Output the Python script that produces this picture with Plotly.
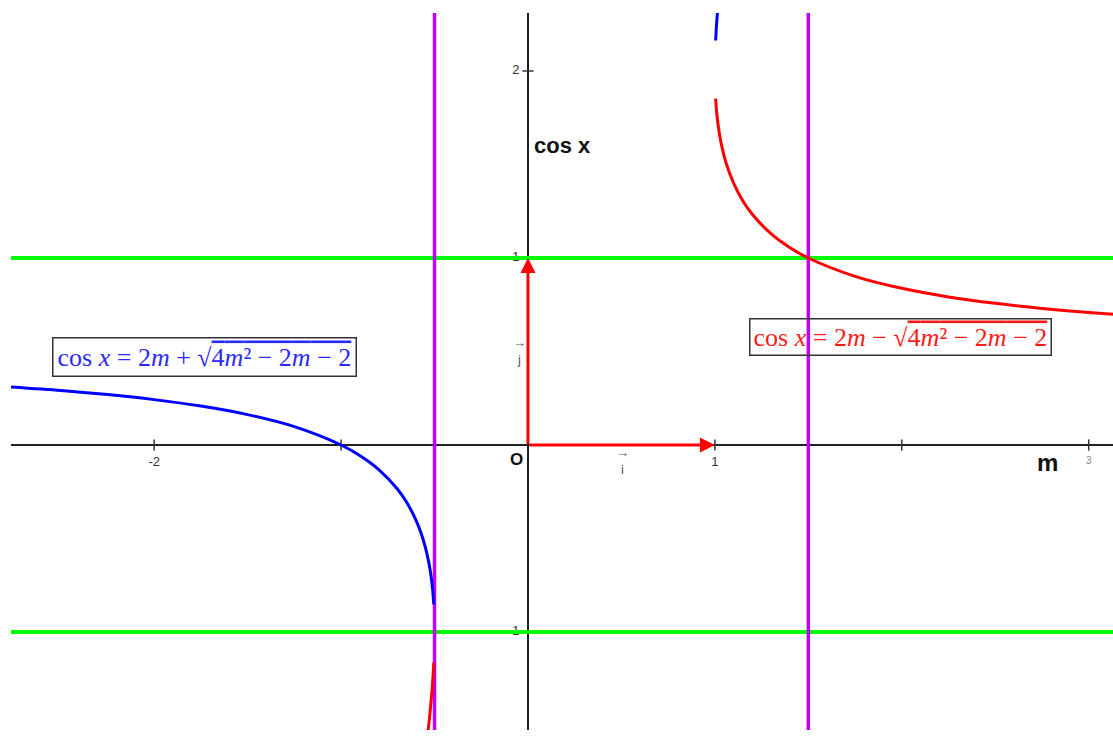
import plotly.graph_objects as go

# blue branch: cos x = 2m + sqrt(4m^2 - 2m - 2)
blue_m = [-2.766, -2.5, -2.25, -2.0, -1.75, -1.5, -1.25, -1.0, -0.9, -0.8,
          -0.7, -0.65, -0.6, -0.57, -0.55, -0.53, -0.52, -0.51, -0.504]
blue_c = [0.310, 0.2915, 0.2697, 0.2426, 0.2081, 0.1623, 0.0981, 0.0, -0.0564, -0.1303,
          -0.2338, -0.3050, -0.4, -0.4770, -0.5432, -0.6315, -0.6913, -0.7742, -0.8529]
blue_top_m = [1.004, 1.008, 1.0135]
blue_top_c = [2.163, 2.2357, 2.3129]

# red branch: cos x = 2m - sqrt(4m^2 - 2m - 2)
red_m = [1.004, 1.008, 1.015, 1.025, 1.04, 1.06, 1.1, 1.15, 1.2, 1.3, 1.4, 1.5,
         1.75, 2.0, 2.25, 2.5, 2.75, 3.0, 3.13]
red_c = [1.8529, 1.7963, 1.7285, 1.6595, 1.5836, 1.5081, 1.4, 1.305, 1.2338, 1.1303,
         1.0564, 1.0, 0.9019, 0.8377, 0.7919, 0.7574, 0.7303, 0.7085, 0.6987]
red_low_m = [-0.504, -0.505, -0.51, -0.515, -0.52, -0.525, -0.53, -0.535]
red_low_c = [-1.1631, -1.1835, -1.2658, -1.3315, -1.3887, -1.4405, -1.4885, -1.5336]

level_lines = [-1, 1]
asymptotes = [-0.5, 1.5]

x_ticks = [-2, -1, 1, 2, 3]
y_ticks = [-1, 1, 2]
x_label_vals = [-2, 1, 3]
x_label_text = ['-2', '1', '3']
y_label_vals = [2, 1, -1]
y_label_text = ['2', '1', '-1']

x_range = [-2.766, 3.130]
y_range = [-1.524, 2.310]

BLUE = '#0000ff'
RED = '#ff0000'
GREEN = '#00ff00'
PURPLE = '#c000ff'

fig = go.Figure()

# tick labels (drawn first so the green lines cover them)
fig.add_trace(go.Scatter(x=x_label_vals, y=[0] * len(x_label_vals), mode='markers+text',
                         text=x_label_text, textposition='bottom center',
                         marker=dict(size=16, color='rgba(0,0,0,0)'),
                         textfont=dict(family='Liberation Sans', size=[13, 13, 10],
                                       color=['#333', '#333', '#888'])))
fig.add_trace(go.Scatter(x=[0] * len(y_label_vals), y=y_label_vals, mode='markers+text',
                         text=y_label_text, textposition='middle left',
                         marker=dict(size=12, color='rgba(0,0,0,0)'),
                         textfont=dict(family='Liberation Sans', size=13, color='#333')))

# tick marks
fig.add_trace(go.Scatter(x=x_ticks, y=[0] * len(x_ticks), mode='markers',
                         marker=dict(symbol='line-ns', size=8,
                                     line=dict(width=1.5, color='#333'))))
fig.add_trace(go.Scatter(x=[0] * len(y_ticks), y=y_ticks, mode='markers',
                         marker=dict(symbol='line-ew', size=8,
                                     line=dict(width=1.5, color='#333'))))

for v in level_lines:
    fig.add_trace(go.Scatter(x=x_range, y=[v, v], mode='lines',
                             line=dict(color=GREEN, width=4)))
for v in asymptotes:
    fig.add_trace(go.Scatter(x=[v, v], y=y_range, mode='lines',
                             line=dict(color=PURPLE, width=3.5)))

for xs, ys, col in [(blue_m, blue_c, BLUE), (blue_top_m, blue_top_c, BLUE),
                    (red_m, red_c, RED), (red_low_m, red_low_c, RED)]:
    fig.add_trace(go.Scatter(x=xs, y=ys, mode='lines',
                             line=dict(color=col, width=3, shape='spline', smoothing=0.8)))

# unit vectors i and j
for tx, ty in [(1, 0), (0, 1)]:
    fig.add_annotation(x=tx, y=ty, ax=0, ay=0, xref='x', yref='y', axref='x', ayref='y',
                       text='', showarrow=True, arrowhead=2, arrowsize=1,
                       arrowwidth=3, arrowcolor=RED, standoff=0)

lab_font = dict(family='Liberation Sans', color='#111')
fig.add_annotation(x=0.182, y=1.604, text='<b>cos x</b>', showarrow=False,
                   font=dict(size=22, **lab_font))
fig.add_annotation(x=-0.064, y=-0.075, text='<b>O</b>', showarrow=False,
                   font=dict(size=17, **lab_font))
fig.add_annotation(x=2.777, y=-0.096, text='<b>m</b>', showarrow=False,
                   font=dict(size=24, **lab_font))

# vector names: small arrow stacked over the letter
vec_font = dict(family='Liberation Sans', size=13, color='#555')
fig.add_annotation(x=0.503, y=-0.085, text='\u2192<br>i', showarrow=False, font=vec_font)
fig.add_annotation(x=-0.043, y=0.505, text='\u2192<br>j', showarrow=False, font=vec_font)

radicand = "4<i>m</i>\u00b2 \u2212 2<i>m</i> \u2212 2"
ov = "<span style='text-decoration:overline'>" + radicand + "</span>"
blue_txt = "cos <i>x</i> = 2<i>m</i> + \u221a" + ov
red_txt = "cos <i>x</i> = 2<i>m</i> \u2212 \u221a" + ov

fig.add_annotation(x=-1.731, y=0.468, text=blue_txt, showarrow=False,
                   font=dict(family='Liberation Serif', size=26, color='#2a2aff'),
                   bordercolor='#333', borderwidth=1.5, borderpad=4,
                   bgcolor='rgba(0,0,0,0)')
fig.add_annotation(x=1.993, y=0.575, text=red_txt, showarrow=False,
                   font=dict(family='Liberation Serif', size=26, color='#ff1a1a'),
                   bordercolor='#333', borderwidth=1.5, borderpad=3,
                   bgcolor='rgba(0,0,0,0)')

fig.update_layout(width=1113, height=745, showlegend=False,
                  margin=dict(l=11, r=0, t=13, b=15),
                  plot_bgcolor='white', paper_bgcolor='white')
fig.update_xaxes(range=x_range, showgrid=False, showticklabels=False, ticks='',
                 zeroline=True, zerolinecolor='#222', zerolinewidth=1.5,
                 showline=False)
fig.update_yaxes(range=y_range, showgrid=False, showticklabels=False, ticks='',
                 zeroline=True, zerolinecolor='#222', zerolinewidth=1.5,
                 showline=False)

# drop the default page margin so the figure sits at the window's corner
fig.write_html("out.html", config={'displayModeBar': False},
               post_script="document.body.style.margin='0';")
